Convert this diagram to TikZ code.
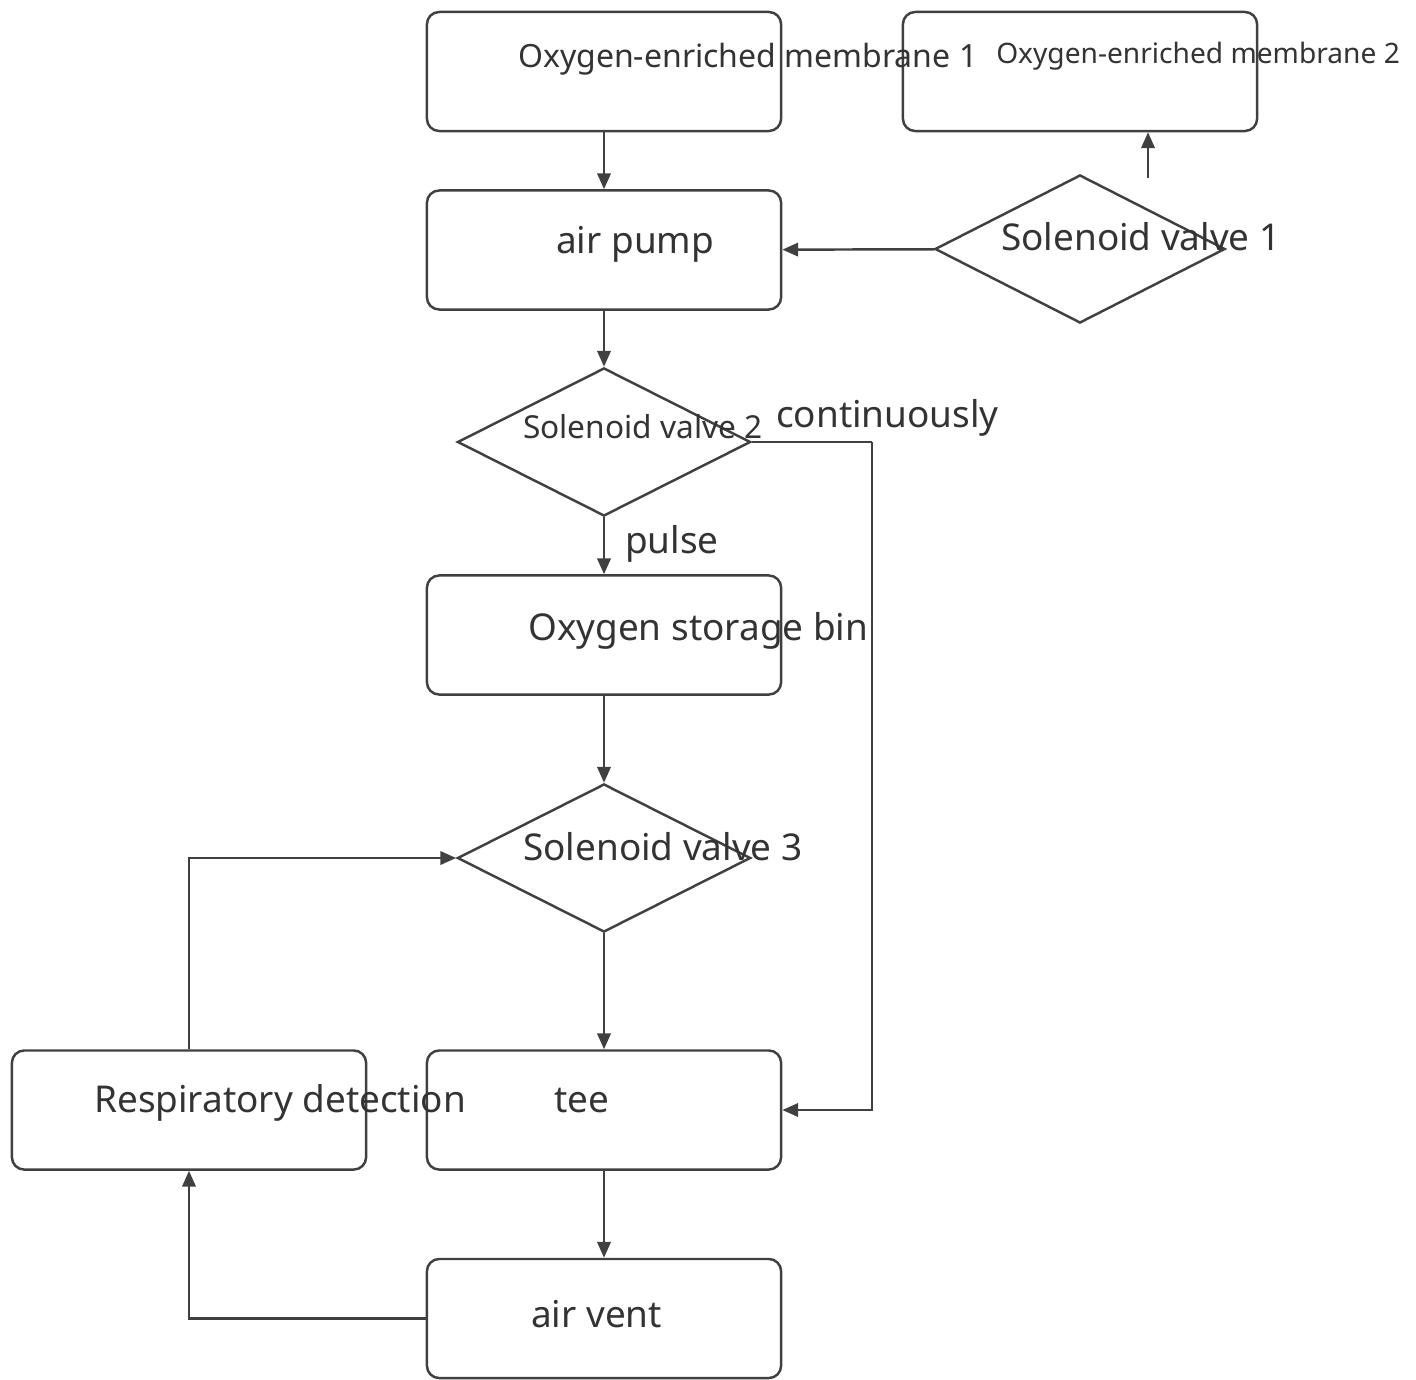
\documentclass[tikz,border=0pt]{standalone}
\usepackage{fontspec}
\setmainfont{Noto Sans}
\usetikzlibrary{arrows.meta}
\usetikzlibrary{shapes.geometric}

\begin{document}
\begin{tikzpicture}[x=0.01cm,y=-0.01cm,->,>={Triangle[length=4.5pt,width=3.8pt]},line width=0.7pt,draw=black!75,
	box/.style={draw,rectangle,rounded corners=3.5pt,minimum width=3.54cm,minimum height=1.19cm,inner sep=0pt},
	valve/.style={draw,diamond,minimum width=2.93cm,minimum height=1.48cm,inner sep=0pt},
	txt/.style={anchor=base west,inner sep=0pt,text=black!80,font=\fontsize{10.5}{12}\selectfont},
	smalltxt/.style={txt,font=\fontsize{9}{11}\selectfont}]
	\useasboundingbox (0,0) rectangle (1416,1379);
	% boxes and valves
	\node[box] (m1) at (604,71.5) {};
	\node[box] (m2) at (1080,71.5) {};
	\node[box] (pump) at (604,250) {};
	\node[valve,minimum width=2.9cm] (v1) at (1080,249) {};
	\node[valve] (v2) at (604,442) {};
	\node[box] (store) at (604,635) {};
	\node[valve] (v3) at (604,858) {};
	\node[box] (tee) at (604,1110) {};
	\node[box] (resp) at (189,1110) {};
	\node[box] (vent) at (604,1318.5) {};
	% texts, off centre as in the drawing
	\node[txt,font=\fontsize{9.1}{11}\selectfont] (m1-t) at (517,68) {Oxygen-enriched membrane 1};
	\node[txt,font=\fontsize{8}{10}\selectfont] (m2-t) at (995,64) {Oxygen-enriched membrane 2};
	\node[txt] (pump-t) at (555,253) {air pump};
	\node[txt] (v1-t) at (1000,250) {Solenoid valve 1};
	\node[smalltxt] (v2-t) at (522,438) {Solenoid valve 2};
	\node[txt] (cont-t) at (775,427) {continuously};
	\node[txt] (pulse-t) at (624,553) {pulse};
	\node[txt] (store-t) at (527,640) {Oxygen storage bin};
	\node[txt] (v3-t) at (522,860) {Solenoid valve 3};
	\node[txt] (resp-t) at (93,1112) {Respiratory detection};
	\node[txt] (tee-t) at (553,1112) {tee};
	\node[txt] (vent-t) at (530,1327) {air vent};
	\coordinate (v1up) at (1148,178);
	\coordinate (jct) at (872,442);
	% connectors
	\draw (m1) -- (pump);
	\draw (v1) -- (pump);
	\draw (v1up) -- (v1up |- m2.south);
	\draw (pump) -- (v2);
	\draw (v2) -- (store);
	\draw[-] (v2.east) -- (jct);
	\draw (jct) |- (tee.east);
	\draw (store) -- (v3);
	\draw (v3) -- (tee);
	\draw (tee) -- (vent);
	\draw (resp.north) |- (v3.west);
	\draw (vent.west) -| (resp.south);
\end{tikzpicture}
\end{document}
